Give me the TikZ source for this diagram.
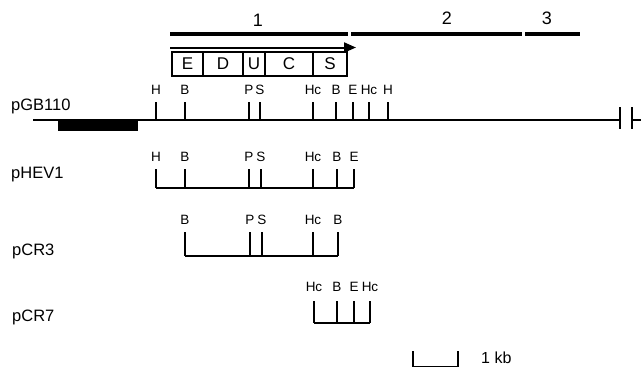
\documentclass[tikz,border=0pt]{standalone}
\usepackage{fontspec}
\setmainfont{Liberation Sans}
\usetikzlibrary{arrows.meta}
\begin{document}
\begin{tikzpicture}[x=1pt,y=-1pt,
  line/.style={line width=1.5pt},
  tickline/.style={line width=1.5pt},
  bigbar/.style={line width=4.5pt},
  tl/.style={inner sep=0pt,font=\fontsize{13.5}{13.5}\selectfont},
  pname/.style={inner sep=0pt,anchor=west,font=\fontsize{16.5}{16.5}\selectfont},
  num/.style={inner sep=0pt,font=\fontsize{18}{18}\selectfont},
  gbox/.style={draw,line width=1.4pt,inner sep=0pt,minimum height=24pt,font=\fontsize{17}{17}\selectfont}]
\useasboundingbox (0,0) rectangle (641,368);

% top region bars
\coordinate (b1a) at (170,34); \coordinate (b1b) at (348,34);
\coordinate (b2a) at (351,34); \coordinate (b2b) at (522,34);
\coordinate (b3a) at (525,34); \coordinate (b3b) at (580,34);
\draw[bigbar] (b1a) -- (b1b);
\draw[bigbar] (b2a) -- (b2b);
\draw[bigbar] (b3a) -- (b3b);
\node[num] (n1) at (258,20) {1};
\node[num] (n2) at (447,18) {2};
\node[num] (n3) at (547,18) {3};

% operon arrow
\coordinate (arA) at (170,47.5); \coordinate (arB) at (356,47.5);
\draw[line width=2pt,-{Triangle[length=12pt,width=10pt]}] (arA) -- (arB);

% gene boxes
\node[gbox,minimum width=31pt] (gE) at (187.5,64) {E};
\node[gbox,minimum width=40pt] (gD) at (223,64) {D};
\node[gbox,minimum width=22pt] (gU) at (254,64) {U};
\node[gbox,minimum width=48pt] (gC) at (289,64) {C};
\node[gbox,minimum width=34pt] (gS) at (330,64) {S};

% pGB110
\node[pname] (pGB) at (11,106) {pGB110};
\coordinate (gl) at (33,120); \coordinate (gr) at (620,120);
\coordinate (gr2) at (632,120); \coordinate (gend) at (641,120);
\draw[line] (gl) -- (gr);
\draw[line] (gr2) -- (gend);
\draw[line width=2pt] (620,107) -- (620,129);
\draw[line width=2pt] (632,107) -- (632,129);
\fill (58,121) rectangle (138,131);
\foreach \x/\t/\n in {156/H/1,185/B/2,249/P/3,260/S/4,313/Hc/5,336/B/6,353/E/7,369/Hc/8,388/H/9}{
  \coordinate (ga\n) at (\x,102); \coordinate (gb\n) at (\x,120);
  \draw[tickline] (ga\n) -- (gb\n);
  \node[tl] (gt\n) at (\x,90) {\t};
}

% pHEV1
\node[pname] (pHEV) at (11,175) {pHEV1};
\coordinate (hl) at (156,188); \coordinate (hr) at (354,188);
\draw[line] (hl) -- (hr);
\foreach \x/\t/\n in {156/H/1,185/B/2,249/P/3,261/S/4,313/Hc/5,337/B/6,354/E/7}{
  \coordinate (ha\n) at (\x,169); \coordinate (hb\n) at (\x,188);
  \draw[tickline] (ha\n) -- (hb\n);
  \node[tl] (ht\n) at (\x,157) {\t};
}

% pCR3
\node[pname] (pCR3) at (12,251) {pCR3};
\coordinate (cl) at (185,256); \coordinate (cr) at (338,256);
\draw[line] (cl) -- (cr);
\foreach \x/\t/\n in {185/B/1,250/P/2,262/S/3,313/Hc/4,338/B/5}{
  \coordinate (ca\n) at (\x,232); \coordinate (cb\n) at (\x,256);
  \draw[tickline] (ca\n) -- (cb\n);
  \node[tl] (ct\n) at (\x,220) {\t};
}

% pCR7
\node[pname] (pCR7) at (12,317) {pCR7};
\coordinate (dl) at (314,323); \coordinate (dr) at (370,323);
\draw[line] (dl) -- (dr);
\foreach \x/\t/\n in {314/Hc/1,337/B/2,354/E/3,370/Hc/4}{
  \coordinate (da\n) at (\x,301); \coordinate (db\n) at (\x,323);
  \draw[tickline] (da\n) -- (db\n);
  \node[tl] (dt\n) at (\x,287) {\t};
}

% scale bar
\coordinate (s1) at (413,351); \coordinate (s2) at (413,366.5);
\coordinate (s3) at (458,366.5); \coordinate (s4) at (458,351);
\draw[line] (s1) -- (s2) -- (s3) -- (s4);
\node[inner sep=0pt,anchor=west,font=\fontsize{16}{16}\selectfont] (kb) at (481,358) {1 kb};
\end{tikzpicture}
\end{document}
